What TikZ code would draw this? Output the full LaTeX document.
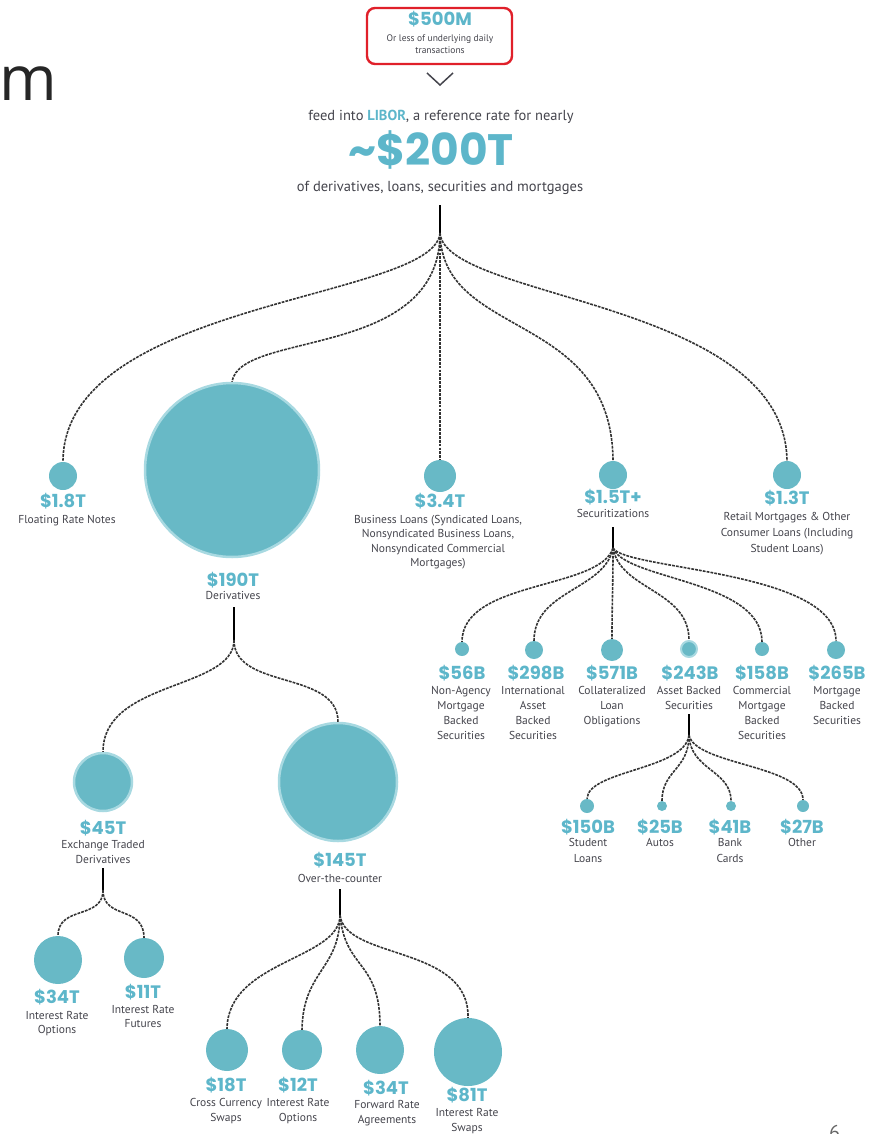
\documentclass[tikz,border=0pt]{standalone}
\usepackage{fontspec}
\setmainfont{PT Sans}
\newfontfamily\valfont{Poppins}
\newfontfamily\titlefont{Open Sans}
\definecolor{bubfill}{HTML}{68B9C6}
\definecolor{bubhalo}{HTML}{A8D9E1}
\definecolor{tealtxt}{HTML}{5DB6CA}
\definecolor{graytxt}{HTML}{44444C}
\definecolor{boxred}{HTML}{E0202A}
\tikzset{
  bub/.style={circle, fill=bubfill, inner sep=0pt, minimum size=#1},
  halo/.style={draw=bubhalo, line width=2.5pt},
  val/.style={text=tealtxt, font=\valfont\bfseries\fontsize{18}{18}\selectfont, inner sep=0pt},
  desc/.style={text=graytxt, font=\fontsize{11.5}{14.5}\selectfont, align=center, inner sep=0pt, anchor=north},
  link/.style={draw=black!80, line width=1.6pt, dash pattern=on 2.8pt off 1.1pt},
  stem/.style={draw=black, line width=1.6pt},
}
\begin{document}
\begin{tikzpicture}[x=1pt,y=-1pt]
\useasboundingbox (0,0) rectangle (881,1134);
% slide remnants
\node[font=\titlefont\fontsize{62}{62}\selectfont, anchor=base west, inner sep=0pt, text=black!85] (mtitle) at (-1,101) {m};
\node[font=\fontsize{20}{20}\selectfont, anchor=north west, inner sep=0pt, text=black!60] (pnum) at (829,1125) {6};
% top box
\draw[boxred, line width=2.4pt, rounded corners=8pt] (367,8) rectangle (512,64);
\node[val, font=\valfont\bfseries\fontsize{18}{18}\selectfont] (v500) at (440,19) {\$500M};
\node[desc, font=\fontsize{9.5}{11.5}\selectfont] (d500) at (440,35) {Or less of underlying daily\\transactions};
\draw[graytxt, line width=1.5pt] (427,73) -- (440,85) -- (453,73);
\node[text=graytxt, font=\fontsize{14.5}{14.5}\selectfont, inner sep=0pt] (feed) at (441,117) {feed into \textcolor{tealtxt}{\textbf{LIBOR}}, a reference rate for nearly};
\node[val, font=\valfont\bfseries\fontsize{44}{44}\selectfont] (v200) at (431,150) {\char`~\$200T};
\node[text=graytxt, font=\fontsize{14.5}{14.5}\selectfont, inner sep=0pt] (ofd) at (440,188) {of derivatives, loans, securities and mortgages};
\coordinate (s0) at (440,205);
\coordinate (j0) at (440,233);
\draw[stem] (s0) -- (j0);

% level 1
\node[bub=28pt] (b18) at (63,476) {};
\node[val] (v18) at (63,501) {\$1.8T};
\node[desc] (d18) at (67,515) {Floating Rate Notes};

\node[bub=174pt, halo] (b190) at (232,470) {};
\node[val] (v190) at (233,580) {\$190T};
\node[desc] (d190) at (233,591) {Derivatives};

\node[bub=32pt] (b34) at (440,476) {};
\node[val] (v34) at (440,501) {\$3.4T};
\node[desc] (d34) at (438,515) {Business Loans (Syndicated Loans,\\Nonsyndicated Business Loans,\\Nonsyndicated Commercial\\Mortgages)};

\node[bub=28pt] (b15) at (613,475) {};
\node[val] (v15) at (613,497) {\$1.5T+};
\node[desc] (d15) at (613,509) {Securitizations};

\node[bub=28pt] (b13) at (787,475) {};
\node[val] (v13) at (787,498) {\$1.3T};
\node[desc, font=\fontsize{11.5}{16}\selectfont] (d13) at (787,512) {Retail Mortgages \& Other\\Consumer Loans (Including\\Student Loans)};

\draw[link] (j0) .. controls (435,300) and (63,300) .. (b18.north);
\draw[link] (j0) .. controls (440,360) and (240,330) .. (b190.north);
\draw[link] (j0) -- (b34.north);
\draw[link] (j0) .. controls (442,340) and (612,310) .. (b15.north);
\draw[link] (j0) .. controls (445,300) and (785,300) .. (b13.north);

% securitizations
\coordinate (s4) at (613,527);
\coordinate (j4) at (613,548);
\draw[stem] (s4) -- (j4);
\node[bub=14pt] (s56) at (462,649) {};
\node[bub=18pt] (s298) at (534,650) {};
\node[bub=22pt] (s571) at (612,650) {};
\node[bub=16pt, draw=bubhalo, line width=2pt] (s243) at (689,649) {};
\node[bub=14pt] (s158) at (762,649) {};
\node[bub=18pt] (s265) at (836,650) {};
\draw[link] (j4) .. controls (600,590) and (462,580) .. (s56.north);
\draw[link] (j4) .. controls (605,590) and (534,590) .. (s298.north);
\draw[link] (j4) .. controls (613,590) and (612,600) .. (s571.north);
\draw[link] (j4) .. controls (620,590) and (689,590) .. (s243.north);
\draw[link] (j4) .. controls (625,580) and (762,580) .. (s158.north);
\draw[link] (j4) .. controls (625,570) and (836,570) .. (s265.north);
\node[val] (v56) at (462,673) {\$56B};
\node[val] (v298) at (536,673) {\$298B};
\node[val] (v571) at (612,673) {\$571B};
\node[val] (v243) at (690,673) {\$243B};
\node[val] (v158) at (762,673) {\$158B};
\node[val] (v265) at (837,673) {\$265B};
\node[desc, font=\fontsize{11.5}{15}\selectfont] (d56) at (461,686) {Non-Agency\\Mortgage\\Backed\\Securities};
\node[desc, font=\fontsize{11.5}{15}\selectfont] (d298) at (533,686) {International\\Asset\\Backed\\Securities};
\node[desc, font=\fontsize{11.5}{15}\selectfont] (d571) at (612,686) {Collateralized\\Loan\\Obligations};
\node[desc, font=\fontsize{11.5}{15}\selectfont] (d243) at (689,686) {Asset Backed\\Securities};
\node[desc, font=\fontsize{11.5}{15}\selectfont] (d158) at (762,686) {Commercial\\Mortgage\\Backed\\Securities};
\node[desc, font=\fontsize{11.5}{15}\selectfont] (d265) at (837,686) {Mortgage\\Backed\\Securities};

% asset backed
\coordinate (s5) at (689,714);
\coordinate (j5) at (689,735);
\draw[stem] (s5) -- (j5);
\node[bub=14pt] (a150) at (587,806) {};
\node[bub=10pt] (a25) at (662,806) {};
\node[bub=10pt] (a41) at (731,806) {};
\node[bub=12pt] (a27) at (803,806) {};
\draw[link] (j5) .. controls (685,770) and (588,770) .. (a150.north);
\draw[link] (j5) .. controls (689,770) and (662,770) .. (a25.north);
\draw[link] (j5) .. controls (690,770) and (731,770) .. (a41.north);
\draw[link] (j5) .. controls (695,765) and (803,765) .. (a27.north);
\node[val] (v150) at (588,827) {\$150B};
\node[val] (v25) at (660,827) {\$25B};
\node[val] (v41) at (730,827) {\$41B};
\node[val] (v27) at (802,827) {\$27B};
\node[desc, font=\fontsize{11.5}{16}\selectfont] (d150) at (588,838) {Student\\Loans};
\node[desc, font=\fontsize{11.5}{16}\selectfont] (d25) at (660,838) {Autos};
\node[desc, font=\fontsize{11.5}{16}\selectfont] (d41) at (730,838) {Bank\\Cards};
\node[desc, font=\fontsize{11.5}{16}\selectfont] (d27) at (802,838) {Other};

% derivatives
\coordinate (s1) at (234,607);
\coordinate (j1) at (234,640);
\draw[stem] (s1) -- (j1);
\node[bub=58pt, halo] (b45) at (103,782) {};
\node[bub=118pt, halo] (b145) at (338,782) {};
\draw[link] (j1) .. controls (234,690) and (103,680) .. (b45.north);
\draw[link] (j1) .. controls (234,690) and (338,670) .. (b145.north);
\node[val] (v45) at (103,828) {\$45T};
\node[desc, font=\fontsize{11.5}{15}\selectfont] (d45) at (103,840) {Exchange Traded\\Derivatives};
\node[val] (v145) at (340,860) {\$145T};
\node[desc] (d145) at (340,874) {Over-the-counter};

% exchange traded
\coordinate (s2) at (103,868);
\coordinate (j2) at (103,890);
\draw[stem] (s2) -- (j2);
\node[bub=48pt] (e34) at (58,960) {};
\node[bub=40pt] (e11) at (144,958) {};
\draw[link] (j2) .. controls (103,920) and (58,905) .. (e34.north);
\draw[link] (j2) .. controls (103,920) and (144,905) .. (e11.north);
\node[val] (ve34) at (57,997) {\$34T};
\node[val] (ve11) at (143,992) {\$11T};
\node[desc] (de34) at (57,1011) {Interest Rate\\Options};
\node[desc] (de11) at (143,1005) {Interest Rate\\Futures};

% over the counter
\coordinate (s3) at (340,889);
\coordinate (j3) at (340,915);
\draw[stem] (s3) -- (j3);
\node[bub=42pt] (c18) at (227,1050) {};
\node[bub=40pt] (c12) at (302,1050) {};
\node[bub=48pt] (c34) at (380,1050) {};
\node[bub=68pt] (c81) at (468,1052) {};
\draw[link] (j3) .. controls (340,960) and (228,960) .. (c18.north);
\draw[link] (j3) .. controls (340,970) and (303,970) .. (c12.north);
\draw[link] (j3) .. controls (345,970) and (380,960) .. (c34.north);
\draw[link] (j3) .. controls (345,960) and (470,945) .. (c81.north);
\node[val] (vc18) at (226,1085) {\$18T};
\node[val] (vc12) at (298,1085) {\$12T};
\node[val] (vc34) at (386,1088) {\$34T};
\node[val] (vc81) at (467,1095) {\$81T};
\node[desc, font=\fontsize{11.5}{15}\selectfont] (dc18) at (226,1098) {Cross Currency\\Swaps};
\node[desc, font=\fontsize{11.5}{15}\selectfont] (dc12) at (298,1098) {Interest Rate\\Options};
\node[desc, font=\fontsize{11.5}{15}\selectfont] (dc34) at (387,1100) {Forward Rate\\Agreements};
\node[desc, font=\fontsize{11.5}{15}\selectfont] (dc81) at (467,1108) {Interest Rate\\Swaps};
\end{tikzpicture}
\end{document}
